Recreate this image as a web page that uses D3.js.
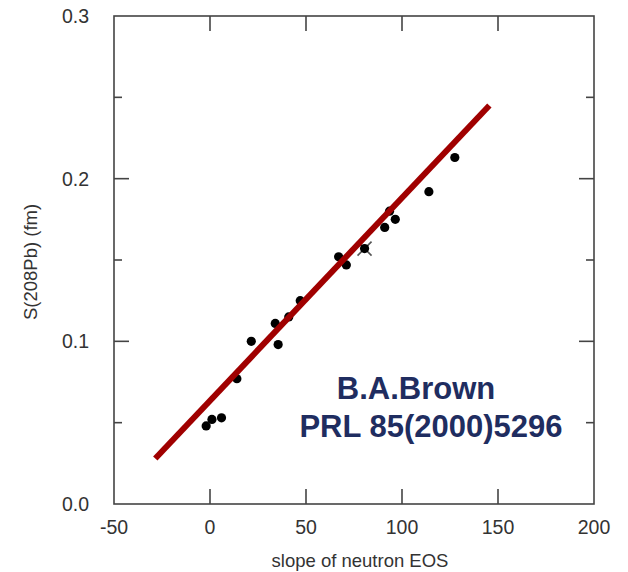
<!DOCTYPE html>
<html>
<head>
<meta charset="utf-8">
<script src="https://cdn.jsdelivr.net/npm/d3@7"></script>
<style>
  body { margin: 0; background: #fff; }
  svg { display: block; font-family: "Liberation Sans", Arial, sans-serif; }
</style>
</head>
<body>
<svg id="chart" width="628" height="572"></svg>
<script>
// data
const slopeL = [-2, 1, 6, 14, 21.5, 34, 35.5, 41, 47, 67, 71, 91, 93.5, 96.5, 114, 127.5];
const skin   = [0.048, 0.052, 0.053, 0.077, 0.100, 0.111, 0.098, 0.115, 0.125, 0.152, 0.147, 0.170, 0.180, 0.175, 0.192, 0.213];
const crossPoint = [80.5, 0.157];
const fitX = [-28.5, 145.5];
const fitY = [0.028, 0.245];
const xTicks = [-50, 0, 50, 100, 150, 200];
const yTicks = [0.0, 0.1, 0.2, 0.3];
const yMinor = [0.05, 0.15, 0.25];

let svg = d3.select("#chart");

// plot box
let boxL = 114, boxR = 594, boxT = 16, boxB = 504;
let x = d3.scaleLinear().domain([-50, 200]).range([boxL, boxR]);
let y = d3.scaleLinear().domain([0, 0.3]).range([boxB, boxT]);

let axisColor = "#444";

svg.append("rect")
  .attr("x", boxL).attr("y", boxT)
  .attr("width", boxR - boxL).attr("height", boxB - boxT)
  .attr("fill", "none").attr("stroke", axisColor).attr("stroke-width", 1.6);

// inward ticks on all four sides
let major = 15, minor = 8;
let innerX = xTicks.slice(1, -1);
innerX.forEach(function(v) {
  svg.append("line").attr("x1", x(v)).attr("x2", x(v)).attr("y1", boxB).attr("y2", boxB - major)
    .attr("stroke", axisColor).attr("stroke-width", 1.6);
  svg.append("line").attr("x1", x(v)).attr("x2", x(v)).attr("y1", boxT).attr("y2", boxT + major)
    .attr("stroke", axisColor).attr("stroke-width", 1.6);
});
let yAll = yTicks.slice(1, -1).map(v => [v, major]).concat(yMinor.map(v => [v, minor]));
yAll.forEach(function(d) {
  svg.append("line").attr("x1", boxL).attr("x2", boxL + d[1]).attr("y1", y(d[0])).attr("y2", y(d[0]))
    .attr("stroke", axisColor).attr("stroke-width", 1.6);
  svg.append("line").attr("x1", boxR).attr("x2", boxR - d[1]).attr("y1", y(d[0])).attr("y2", y(d[0]))
    .attr("stroke", axisColor).attr("stroke-width", 1.6);
});

// tick labels
svg.selectAll("text.xt")
  .data(xTicks)
  .enter()
  .append("text")
  .attr("class", "xt")
  .attr("x", d => x(d))
  .attr("y", 534)
  .attr("text-anchor", "middle")
  .attr("font-size", 19.5)
  .attr("fill", "#333")
  .text(d => d);

svg.selectAll("text.yt")
  .data(yTicks)
  .enter()
  .append("text")
  .attr("class", "yt")
  .attr("x", 89)
  .attr("y", d => y(d) + 7)
  .attr("text-anchor", "end")
  .attr("font-size", 19.5)
  .attr("fill", "#333")
  .text(d => d.toFixed(1));

// axis titles
svg.append("text")
  .attr("x", 360).attr("y", 567)
  .attr("text-anchor", "middle")
  .attr("font-size", 18.5)
  .attr("fill", "#333")
  .text("slope of neutron EOS");

svg.append("text")
  .attr("transform", "translate(37,262) rotate(-90)")
  .attr("text-anchor", "middle")
  .attr("font-size", 18.5)
  .attr("fill", "#333")
  .text("S(208Pb) (fm)");

// points
svg.selectAll("circle.pt")
  .data(slopeL.map((v, i) => [v, skin[i]]))
  .enter()
  .append("circle")
  .attr("class", "pt")
  .attr("cx", d => x(d[0]))
  .attr("cy", d => y(d[1]))
  .attr("r", 4.6)
  .attr("fill", "#000");

// point with cross marker
let cx = x(crossPoint[0]), cy = y(crossPoint[1]);
svg.append("path")
  .attr("d", `M${cx - 7},${cy - 7}L${cx + 7},${cy + 7}M${cx - 7},${cy + 7}L${cx + 7},${cy - 7}`)
  .attr("stroke", "#555").attr("stroke-width", 1.6);
svg.append("circle").attr("cx", cx).attr("cy", cy).attr("r", 4.6).attr("fill", "#000");

// fit line
svg.append("line")
  .attr("x1", x(fitX[0])).attr("y1", y(fitY[0]))
  .attr("x2", x(fitX[1])).attr("y2", y(fitY[1]))
  .attr("stroke", "#a00000")
  .attr("stroke-width", 6);

// reference annotation
svg.append("text")
  .attr("x", 416).attr("y", 399)
  .attr("text-anchor", "middle")
  .attr("font-size", 31)
  .attr("font-weight", "bold")
  .attr("fill", "#1f2d60")
  .text("B.A.Brown");
svg.append("text")
  .attr("x", 431).attr("y", 437)
  .attr("text-anchor", "middle")
  .attr("font-size", 31)
  .attr("font-weight", "bold")
  .attr("fill", "#1f2d60")
  .text("PRL 85(2000)5296");
</script>
</body>
</html>
